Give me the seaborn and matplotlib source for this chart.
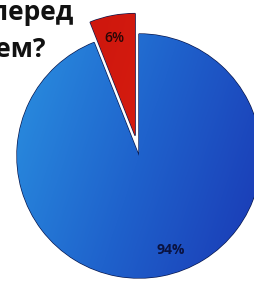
import matplotlib
matplotlib.use("Agg")
import matplotlib.pyplot as plt
import seaborn as sns
import numpy as np
from matplotlib.colors import LinearSegmentedColormap

sns.set_theme(style="white")
plt.rcParams['font.family'] = ['Open Sans', 'DejaVu Sans']

categories = ["Да", "Нет"]
values = [6, 94]
labels = ["6%", "94%"]
title_lines = ["перед", "чем?"]

colors = ["#d81a12", "#1e55c4"]

W, H = 255, 283
fig = plt.figure(figsize=(W / 100, H / 100), dpi=100)
fig.patch.set_facecolor("white")

cx, cy, r = 139, 156, 122
top = 1.25
ax = fig.add_axes([(cx - r) / W, (H - cy - r) / H, 2 * r / W, (1 + top) * r / H])
wedges, texts = ax.pie(values, colors=colors, startangle=90, counterclock=True,
                       explode=[0.17, 0], radius=1,
                       wedgeprops=dict(edgecolor="#0a1a50", linewidth=1.0))

# gradient shading on the wedges
gx, gy = np.meshgrid(np.linspace(0, 1, 256), np.linspace(0, 1, 256))
grad = 0.75 * gx + 0.25 * gy
cmap_b = LinearSegmentedColormap.from_list("b", ["#2a90e0", "#1f62cc", "#1a38b4"])
im = ax.imshow(grad, cmap=cmap_b, extent=[-1, 1, -1, 1], zorder=1.5)
im.set_clip_path(wedges[1])
cmap_r = LinearSegmentedColormap.from_list("r", ["#c8120a", "#e22616"])
im2 = ax.imshow(grad, cmap=cmap_r, extent=[-1, 1, -1, top], zorder=1.5)
im2.set_clip_path(wedges[0])
ax.set_xlim(-1, 1)
ax.set_ylim(-1, top)
ax.set_aspect("equal")
ax.axis("off")

# labels
ax.text(-0.2, 0.97, labels[0], ha="center", va="center", fontsize=10, fontweight="semibold",
        color="#2a0606", zorder=3)
ax.text(0.26, -0.77, labels[1], ha="center", va="center", fontsize=10, fontweight="bold",
        color="#0a1240", zorder=3)

fig.text(73 / W, 1 - 20 / H, title_lines[0], ha="right", va="baseline", fontsize=19,
         fontweight="bold", color="#111111")
fig.text(46 / W, 1 - 57 / H, title_lines[1], ha="right", va="baseline", fontsize=19,
         fontweight="bold", color="#111111")

fig.savefig("out.png", dpi=100)
